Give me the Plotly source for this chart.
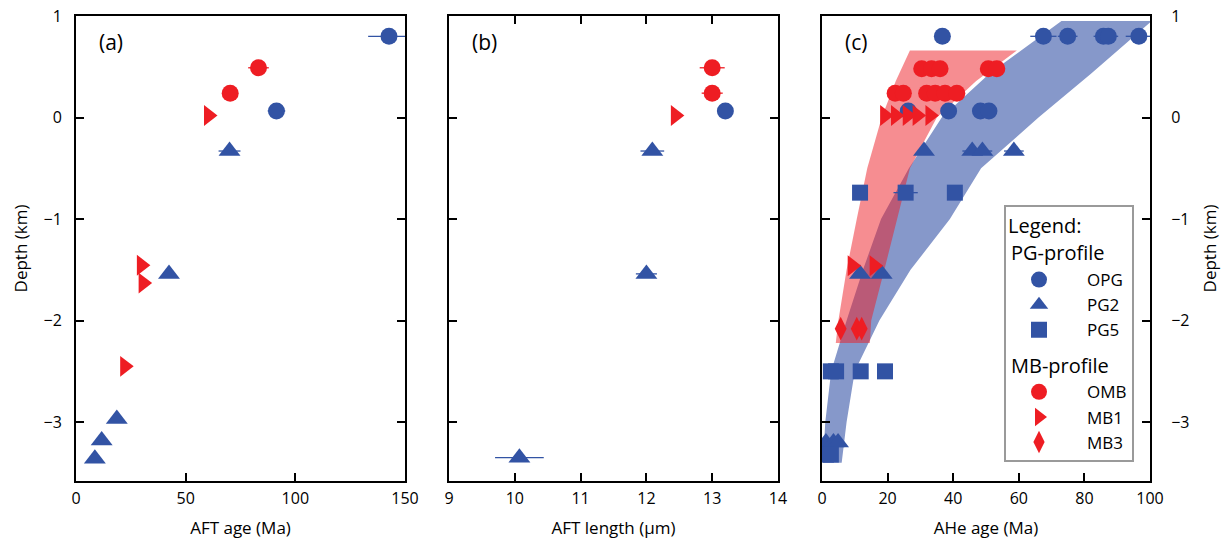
import plotly.graph_objects as go

BLUE = "#3253A4"
RED = "#EE1D23"
FONT = "Open Sans"

# ---------------- Panel (a): AFT age ----------------
a_opg_age = [142.7, 91.4]
a_opg_depth = [0.80, 0.065]
a_opg_err = [9.5, 4.0]

a_omb_age = [83.2, 70.3]
a_omb_depth = [0.49, 0.24]
a_omb_err = [4.7, 0.0]

a_mb1_age = [60.4, 29.8, 30.6, 22.2]
a_mb1_depth = [0.02, -1.455, -1.63, -2.45]

a_pg2_age = [70.0, 42.4, 18.6, 11.7, 8.6]
a_pg2_depth = [-0.33, -1.54, -2.97, -3.18, -3.36]
a_pg2_err = [5.0, 0.0, 0.0, 0.0, 0.0]

# ---------------- Panel (b): AFT length ----------------
b_opg_len = [13.2]
b_opg_depth = [0.065]

b_omb_len = [13.0, 13.0]
b_omb_depth = [0.49, 0.24]
b_omb_err = [0.19, 0.16]

b_mb1_len = [12.44]
b_mb1_depth = [0.02]

b_pg2_len = [12.09, 12.0, 10.07]
b_pg2_depth = [-0.33, -1.54, -3.35]
b_pg2_err = [0.18, 0.16, 0.37]

# ---------------- Panel (c): AHe age ----------------
c_opg_age = [36.7, 67.5, 74.9, 85.8, 87.3, 96.6, 26.3, 38.6, 48.3, 50.9]
c_opg_depth = [0.80, 0.80, 0.80, 0.80, 0.80, 0.80, 0.065, 0.065, 0.065, 0.065]
c_opg_err = [0.0, 4.0, 3.0, 3.0, 3.0, 4.0, 0.0, 0.0, 0.0, 0.0]

c_pg2_age = [31.1, 45.8, 48.9, 58.5, 11.6, 18.2, 1.2, 3.5, 4.9]
c_pg2_depth = [-0.33, -0.33, -0.33, -0.33, -1.54, -1.54, -3.20, -3.20, -3.20]
c_pg2_err = [0.0, 3.0, 3.0, 3.0, 0.0, 0.0, 0.0, 0.0, 0.0]

c_pg5_age = [11.6, 25.5, 40.5, 2.7, 4.3, 11.8, 19.2, 1.2, 2.7]
c_pg5_depth = [-0.74, -0.74, -0.74, -2.50, -2.50, -2.50, -2.50, -3.32, -3.32]
c_pg5_err = [0.0, 3.7, 0.0, 0.0, 0.0, 0.0, 0.0, 0.0, 0.0]

c_omb_age = [30.4, 33.4, 36.0, 50.7, 53.3, 22.3, 24.8, 31.9, 34.5, 37.5, 41.1]
c_omb_depth = [0.48, 0.48, 0.48, 0.48, 0.48, 0.24, 0.24, 0.24, 0.24, 0.24, 0.24]

c_mb1_age = [19.1, 22.4, 26.0, 29.0, 32.9, 9.2, 15.9]
c_mb1_depth = [0.02, 0.02, 0.02, 0.02, 0.02, -1.46, -1.46]

c_mb3_age = [5.7, 10.6, 12.1]
c_mb3_depth = [-2.08, -2.08, -2.08]

# Trend bands
blue_band_depth = [0.95, 0.43, 0.0, -0.5, -1.0, -1.5, -2.0, -2.5, -3.0, -3.4]
blue_band_left = [73.0, 51.0, 36.5, 26.5, 18.0, 12.5, 7.5, 2.8, 1.0, 0.3]
blue_band_right = [100.5, 82.0, 66.0, 48.5, 39.0, 27.0, 17.5, 10.0, 7.5, 6.0]

red_band_depth = [0.66, 0.36, 0.0, -0.5, -1.0, -1.5, -2.0, -2.22]
red_band_left = [26.8, 22.5, 18.2, 13.8, 10.6, 7.5, 5.0, 4.2]
red_band_right = [59.4, 47.0, 35.0, 26.8, 23.0, 19.0, 15.0, 14.6]

fig = go.Figure()


def err(arr, color):
    return dict(type="data", array=arr, visible=True, color=color, thickness=1.3, width=0)


def pts(x, y, sym, color, size, xa, ya, name=None, e=None, show=False, group=None, gtitle=None):
    kw = dict(
        x=x, y=y, mode="markers", xaxis=xa, yaxis=ya,
        marker=dict(symbol=sym, color=color, size=size, line=dict(width=0)),
        showlegend=show, name=name if name else "",
    )
    if e is not None:
        kw["error_x"] = err(e, color)
    if group:
        kw["legendgroup"] = group
    if gtitle:
        kw["legendgrouptitle"] = dict(text=gtitle, font=dict(size=20, family=FONT, color="black"))
    fig.add_trace(go.Scatter(**kw))


SZ_C, SZ_T, SZ_R, SZ_S, SZ_D = 17, 19, 18, 16, 17

# Panel (a)
pts(a_opg_age, a_opg_depth, "circle", BLUE, SZ_C, "x", "y", e=a_opg_err)
pts(a_pg2_age, a_pg2_depth, "triangle-up", BLUE, SZ_T, "x", "y", e=a_pg2_err)
pts(a_omb_age, a_omb_depth, "circle", RED, SZ_C, "x", "y", e=a_omb_err)
pts(a_mb1_age, a_mb1_depth, "triangle-right", RED, SZ_R, "x", "y")

# Panel (b)
pts(b_opg_len, b_opg_depth, "circle", BLUE, SZ_C, "x2", "y2")
pts(b_pg2_len, b_pg2_depth, "triangle-up", BLUE, SZ_T, "x2", "y2", e=b_pg2_err)
pts(b_omb_len, b_omb_depth, "circle", RED, SZ_C, "x2", "y2", e=b_omb_err)
pts(b_mb1_len, b_mb1_depth, "triangle-right", RED, SZ_R, "x2", "y2")

# Panel (c) bands
fig.add_trace(go.Scatter(
    x=blue_band_left + blue_band_right[::-1],
    y=blue_band_depth + blue_band_depth[::-1],
    fill="toself", fillcolor="rgb(134,152,202)", line=dict(width=0),
    mode="lines", xaxis="x3", yaxis="y3", showlegend=False, hoverinfo="skip"))
fig.add_trace(go.Scatter(
    x=red_band_left + red_band_right[::-1],
    y=red_band_depth + red_band_depth[::-1],
    fill="toself", fillcolor="rgba(237,28,36,0.5)", line=dict(width=0),
    mode="lines", xaxis="x3", yaxis="y3", showlegend=False, hoverinfo="skip"))

# Panel (c) points
pts(c_opg_age, c_opg_depth, "circle", BLUE, SZ_C, "x3", "y3", name="OPG", e=c_opg_err,
    show=True, group="PG", gtitle="PG-profile")
pts(c_pg2_age, c_pg2_depth, "triangle-up", BLUE, SZ_T, "x3", "y3", name="PG2", e=c_pg2_err,
    show=True, group="PG")
pts(c_pg5_age, c_pg5_depth, "square", BLUE, SZ_S, "x3", "y3", name="PG5", e=c_pg5_err,
    show=True, group="PG")
pts(c_omb_age, c_omb_depth, "circle", RED, SZ_C, "x3", "y3", name="OMB",
    show=True, group="MB", gtitle="MB-profile")
pts(c_mb1_age, c_mb1_depth, "triangle-right", RED, SZ_R, "x3", "y3", name="MB1",
    show=True, group="MB")
pts(c_mb3_age, c_mb3_depth, "diamond-tall", RED, SZ_D, "x3", "y3", name="MB3",
    show=True, group="MB")

W, H = 1223, 545
ML, MR, MT, MB = 76, 73, 16, 64
PW = W - ML - MR
PH = H - MT - MB


def dom(x0, x1):
    return [(x0 - ML) / PW, (x1 - ML) / PW]


tickfont = dict(size=16, family=FONT, color="black")
titlefont = dict(size=17, family=FONT, color="black")

common_x = dict(showgrid=False, zeroline=False, showline=True, linecolor="black", linewidth=2,
                ticks="inside", ticklen=8, tickwidth=2, tickcolor="black",
                tickfont=tickfont, ticklabelstandoff=2)
common_y = dict(showgrid=False, zeroline=False, showline=True, linecolor="black", linewidth=2,
                ticks="inside", ticklen=8, tickwidth=2, tickcolor="black",
                tickfont=tickfont, range=[-3.58, 1.0], tickvals=[1, 0, -1, -2, -3])

fig.update_layout(
    width=W, height=H,
    margin=dict(l=ML, r=MR, t=MT, b=MB, autoexpand=False),
    paper_bgcolor="white", plot_bgcolor="white",
    font=dict(family=FONT, color="black"),
    xaxis=dict(domain=dom(76, 405), range=[0, 150], tickvals=[0, 50, 100, 150], mirror=True,
               title=dict(text="AFT age (Ma)", font=titlefont, standoff=14), anchor="y", **common_x),
    yaxis=dict(domain=[0, 1], anchor="x", mirror="ticks", ticklabelstandoff=9,
               title=dict(text="Depth (km)", font=titlefont, standoff=12), **common_y),
    xaxis2=dict(domain=dom(449, 778), range=[9, 14], tickvals=[9, 10, 11, 12, 13, 14], mirror="ticks",
                title=dict(text="AFT length (µm)", font=titlefont, standoff=14), anchor="y2", **common_x),
    yaxis2=dict(domain=[0, 1], anchor="x2", mirror="ticks", showticklabels=False, **common_y),
    xaxis3=dict(domain=dom(822, 1150), range=[0, 100], tickvals=[0, 20, 40, 60, 80, 100], mirror=True,
                title=dict(text="AHe age (Ma)", font=titlefont, standoff=14), anchor="y3", **common_x),
    yaxis3=dict(domain=[0, 1], anchor="x3", mirror="ticks", side="right", ticklabelstandoff=16,
                title=dict(text="Depth (km)", font=titlefont, standoff=16), **common_y),
    legend=dict(
        x=(1004 - ML) / PW, y=(481 - 205) / PH, xanchor="left", yanchor="top",
        bgcolor="white", bordercolor="#9a9a9a", borderwidth=2,
        title=dict(text="Legend:", font=dict(size=20, family=FONT, color="black")),
        font=dict(size=17, family=FONT, color="black"),
        tracegroupgap=8, itemwidth=86, indentation=-15, groupclick="toggleitem",
    ),
)

panel_labels = ["(a)", "(b)", "(c)"]
label_refs = [("x domain", "y domain"), ("x2 domain", "y2 domain"), ("x3 domain", "y3 domain")]
anns = []
for txt, (xr, yr) in zip(panel_labels, label_refs):
    anns.append(dict(text=txt, xref=xr, yref=yr,
                     x=21 / 329.0, y=(481 - 42) / PH,
                     xanchor="left", yanchor="middle", showarrow=False,
                     font=dict(size=21, family=FONT, color="black")))
fig.update_layout(annotations=anns)

fig.write_html("out.html", config={"displayModeBar": False},
               post_script="document.body.style.margin='0';")
